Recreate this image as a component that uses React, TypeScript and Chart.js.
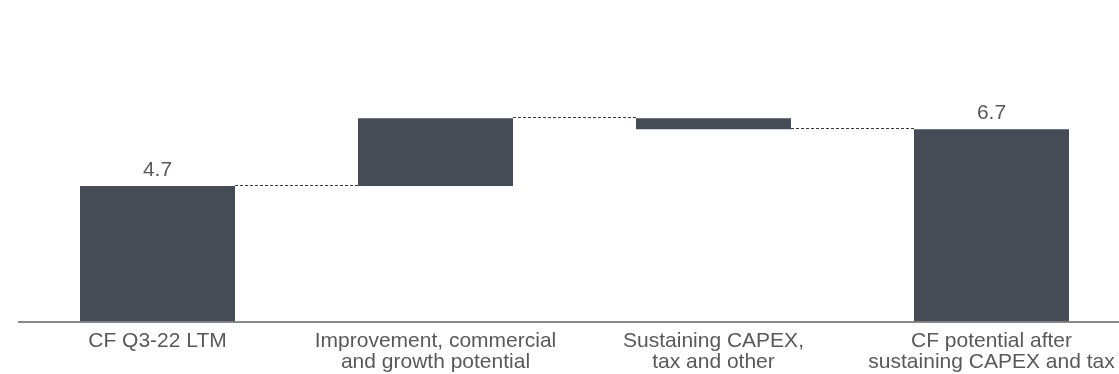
import React, { useEffect, useRef } from "react";
import { Chart, registerables } from "chart.js";

Chart.register(...registerables);

// ---- data ----
const categories: (string | string[])[] = [
  "CF Q3-22 LTM",
  ["Improvement, commercial", "and growth potential"],
  ["Sustaining CAPEX,", "tax and other"],
  ["CF potential after", "sustaining CAPEX and tax"],
];
const stepValues: number[] = [4.7, 2.35, -0.38]; // start, deltas
const isTotal: boolean[] = [true, false, false, true];

// ---- derived (floating bars) ----
const cumulative: number[] = [];
const floating: [number, number][] = [];
{
  let run = 0;
  categories.forEach((_, i) => {
    if (i === 0) {
      run = stepValues[0];
      floating.push([0, run]);
    } else if (isTotal[i]) {
      floating.push([0, run]);
    } else {
      const next = run + stepValues[i];
      floating.push([run, next]);
      run = next;
    }
    cumulative.push(run);
  });
}

const CANVAS_W = 1140;
const CANVAS_H = 374;
const BAR_COLOR = "#464c55";
const TEXT_COLOR = "#595959";
const FONT_FAMILY = "'Liberation Sans', Arial, sans-serif";

const waterfallPlugin = {
  id: "waterfallExtras",
  afterDatasetsDraw(chart: any) {
    const ctx = chart.ctx;
    const meta = chart.getDatasetMeta(0);
    const y = chart.scales.y;
    ctx.save();
    // connectors
    ctx.strokeStyle = "#3a3a3a";
    ctx.lineWidth = 1;
    ctx.setLineDash([3, 2]);
    for (let i = 0; i < meta.data.length - 1; i++) {
      const a = meta.data[i] as any;
      const b = meta.data[i + 1] as any;
      const py = Math.round(y.getPixelForValue(cumulative[i])) - 0.5;
      ctx.beginPath();
      ctx.moveTo(a.x + a.width / 2, py);
      ctx.lineTo(b.x - b.width / 2, py);
      ctx.stroke();
    }
    ctx.setLineDash([]);
    // total labels
    ctx.fillStyle = TEXT_COLOR;
    ctx.font = `21px ${FONT_FAMILY}`;
    ctx.textAlign = "center";
    ctx.textBaseline = "alphabetic";
    meta.data.forEach((el: any, i: number) => {
      if (!isTotal[i]) return;
      const top = Math.min(el.y, el.base);
      ctx.fillText(cumulative[i].toFixed(1), el.x, top - 10);
    });
    ctx.restore();
  },
};

export default function App() {
  const ref = useRef<HTMLCanvasElement | null>(null);

  useEffect(() => {
    if (!ref.current) return;
    const leftPad = 18.5;
    const catW = 278;
    const areaW = catW * categories.length;
    const rightPad = CANVAS_W - leftPad - areaW;
    const chart = new Chart(ref.current, {
      type: "bar",
      data: {
        labels: categories as any,
        datasets: [
          {
            data: floating as any,
            backgroundColor: BAR_COLOR,
            borderWidth: 0,
            borderSkipped: false,
            barPercentage: 1,
            categoryPercentage: 155 / 278,
          },
        ],
      },
      options: {
        responsive: false,
        animation: false,
        events: [],
        layout: {
          padding: { left: leftPad, right: rightPad, top: 33.2, bottom: 0 },
        },
        plugins: {
          legend: { display: false },
          tooltip: { enabled: false },
          title: { display: false },
        },
        scales: {
          x: {
            grid: { display: false, drawTicks: false },
            border: { display: true, color: "#8a8a8a", width: 2 },
            ticks: {
              color: TEXT_COLOR,
              font: { family: FONT_FAMILY, size: 21, lineHeight: 1.0 },
              padding: 9.6,
              maxRotation: 0,
              minRotation: 0,
              autoSkip: false,
            },
            afterFit: (scale: any) => {
              scale.height = CANVAS_H - 321.5;
            },
          },
          y: {
            display: false,
            min: 0,
            max: 10,
          },
        },
      },
      plugins: [waterfallPlugin],
    });
    return () => chart.destroy();
  }, []);

  return (
    <div
      style={{
        position: "fixed",
        left: 0,
        top: 0,
        width: 1119,
        height: 374,
        overflow: "hidden",
        background: "#fff",
      }}
    >
      <canvas
        ref={ref}
        width={CANVAS_W}
        height={CANVAS_H}
        style={{ width: `${CANVAS_W}px`, height: `${CANVAS_H}px`, display: "block" }}
      />
    </div>
  );
}
